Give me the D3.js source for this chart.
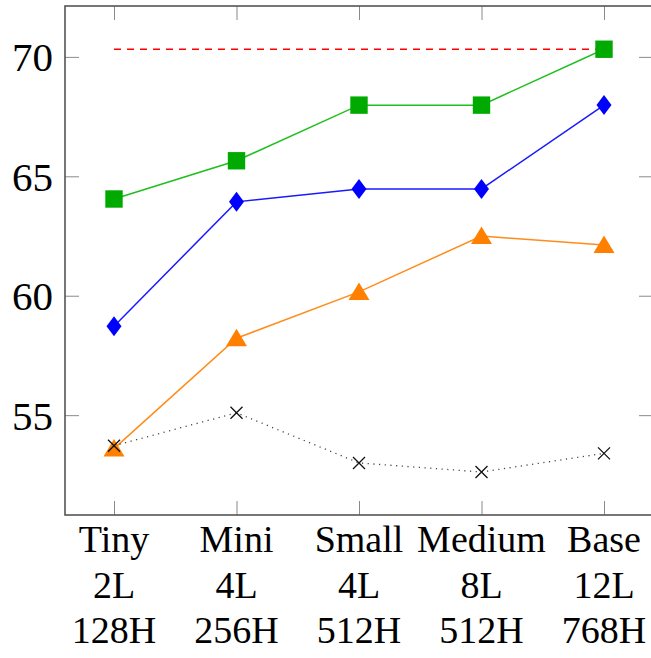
<!DOCTYPE html>
<html>
<head>
<meta charset="utf-8">
<script src="https://cdn.jsdelivr.net/npm/d3@7"></script>
<style>
  body { margin: 0; background: #fff; }
  svg { display: block; }
</style>
</head>
<body>
<svg id="chart"></svg>
<script>
const width = 651;
const height = 658;
const margin = { top: 6, right: -2, bottom: 143, left: 65 };
const serif = "'Liberation Serif', 'Times New Roman', serif";

// data
const models = ['Tiny', 'Mini', 'Small', 'Medium', 'Base'];
const modelLabels = [
    ['Tiny', '2L', '128H'],
    ['Mini', '4L', '256H'],
    ['Small', '4L', '512H'],
    ['Medium', '8L', '512H'],
    ['Base', '12L', '768H']
];
const greenSquares = [64.05, 65.65, 67.98, 67.98, 70.32];
const blueDiamonds = [58.72, 63.93, 64.47, 64.47, 67.98];
const orangeTriangles = [53.6, 58.22, 60.16, 62.5, 62.12];
const blackCrosses = [53.72, 55.1, 53.0, 52.62, 53.4];
const referenceLine = 70.32;
const yTicks = [55, 60, 65, 70];

const svg = d3.select('#chart')
    .attr('width', width)
    .attr('height', height);

const x = d3.scalePoint()
    .domain(models)
    .range([margin.left, width - margin.right])
    .padding(0.4);

const y = d3.scaleLinear()
    .domain([50.82, 72.13])
    .range([height - margin.bottom, margin.top]);

const plotLeft = margin.left, plotRight = width - margin.right;
const plotTop = margin.top, plotBottom = height - margin.bottom;

// ticks (inward, on all four sides)
const tickColor = '#8a8a8a';
const yAxisL = svg.append('g')
    .attr('transform', `translate(${plotLeft},0)`)
    .call(d3.axisLeft(y).tickValues(yTicks).tickSize(-14).tickPadding(12));
yAxisL.select('.domain').remove();
yAxisL.selectAll('line').attr('stroke', tickColor);
yAxisL.attr('font-family', serif).attr('font-size', 41);
yAxisL.selectAll('text').attr('dy', '0.34em').attr('fill', '#000');

const yAxisR = svg.append('g')
    .attr('transform', `translate(${plotRight},0)`)
    .call(d3.axisRight(y).tickValues(yTicks).tickSize(-14).tickFormat(''));
yAxisR.select('.domain').remove();
yAxisR.selectAll('line').attr('stroke', tickColor);

const xAxisB = svg.append('g')
    .attr('transform', `translate(0,${plotBottom})`)
    .call(d3.axisBottom(x).tickSize(-14).tickFormat(''));
xAxisB.select('.domain').remove();
xAxisB.selectAll('line').attr('stroke', tickColor);

const xAxisT = svg.append('g')
    .attr('transform', `translate(0,${plotTop})`)
    .call(d3.axisTop(x).tickSize(-14).tickFormat(''));
xAxisT.select('.domain').remove();
xAxisT.selectAll('line').attr('stroke', tickColor);

// multi-line category labels
const labels = svg.append('g')
    .attr('font-family', serif)
    .attr('font-size', 38)
    .selectAll('text')
    .data(models)
    .enter()
    .append('text')
    .attr('text-anchor', 'middle')
    .attr('fill', '#000');
labels.each(function(d, i) {
    modelLabels[i].forEach((line, j) => {
        d3.select(this).append('tspan')
            .attr('x', x(d))
            .attr('y', plotBottom + 37 + j * 45.5)
            .text(line);
    });
});

// frame
svg.append('rect')
    .attr('x', plotLeft)
    .attr('y', plotTop)
    .attr('width', plotRight - plotLeft)
    .attr('height', plotBottom - plotTop)
    .attr('fill', 'none')
    .attr('stroke', '#555')
    .attr('stroke-width', 1.6);

// reference line
svg.append('line')
    .attr('x1', x(models[0]))
    .attr('x2', x(models[models.length - 1]))
    .attr('y1', y(referenceLine))
    .attr('y2', y(referenceLine))
    .attr('stroke', '#ff0000')
    .attr('stroke-width', 1.6)
    .attr('stroke-dasharray', '7,6');

const line = d3.line()
    .x((d, i) => x(models[i]))
    .y(d => y(d));

function drawSeries(values, color, dash, marker) {
    const g = svg.append('g');
    g.append('path')
        .datum(values)
        .attr('fill', 'none')
        .attr('stroke', color)
        .attr('stroke-width', dash ? 1.3 : 1.5)
        .attr('stroke-dasharray', dash || null)
        .attr('d', line);
    g.selectAll('path.mark')
        .data(values)
        .enter()
        .append('path')
        .attr('class', 'mark')
        .attr('transform', (d, i) => `translate(${x(models[i])},${y(d)})`)
        .attr('d', marker.d)
        .attr('fill', marker.fill)
        .attr('stroke', marker.stroke)
        .attr('stroke-width', marker.strokeWidth || 0);
}

drawSeries(greenSquares, '#1fbf1f', null,
    { d: 'M-8.7,-8.7H8.7V8.7H-8.7Z', fill: '#00aa00', stroke: 'none' });
drawSeries(blueDiamonds, '#1a1aff', null,
    { d: 'M0,-10L7.5,0L0,10L-7.5,0Z', fill: '#0000ff', stroke: 'none' });
drawSeries(orangeTriangles, '#ff8c1a', null,
    { d: 'M0,-9.5L10.5,8H-10.5Z', fill: '#ff8000', stroke: 'none' });
drawSeries(blackCrosses, '#444', '1.2,4.5',
    { d: 'M-6,-6L6,6M-6,6L6,-6', fill: 'none', stroke: '#111', strokeWidth: 1.3 });
</script>
</body>
</html>
